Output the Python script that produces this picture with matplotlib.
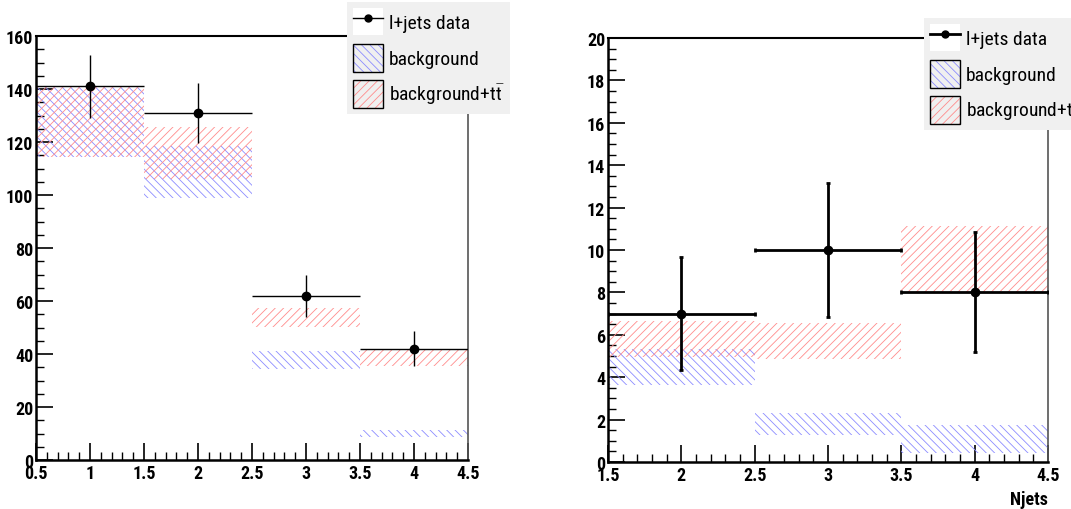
import matplotlib
matplotlib.use("Agg")
import matplotlib.pyplot as plt
from matplotlib.lines import Line2D
from matplotlib.patches import Patch
from matplotlib.legend_handler import HandlerTuple
from matplotlib.ticker import MultipleLocator
from matplotlib import font_manager
import numpy as np

names = {f.name for f in font_manager.fontManager.ttflist}
NARROW = [n for n in ['Liberation Sans Narrow', 'Roboto Condensed', 'Open Sans Condensed']
          if n in names]
plt.rcParams['font.family'] = NARROW + ['Liberation Sans', 'DejaVu Sans']
plt.rcParams['mathtext.fontset'] = 'custom'
plt.rcParams['mathtext.rm'] = (NARROW + ['Liberation Sans'])[0]
plt.rcParams['hatch.linewidth'] = 0.6

# ---- Left panel data ----
left_bins = [1, 2, 3, 4]
left_data = [141, 131, 62, 42]
left_err = [11.9, 11.4, 7.9, 6.5]
left_bkg_lo = [114.3, 98.9, 34.2, 8.8]
left_bkg_hi = [140.7, 118.6, 41.1, 11.3]
left_sig_lo = [114.3, 106.0, 50.3, 35.6]
left_sig_hi = [140.7, 125.8, 57.4, 41.4]

# ---- Right panel data ----
right_bins = [2, 3, 4]
right_data = [7, 10, 8]
right_err = [2.65, 3.16, 2.83]
right_bkg_lo = [3.64, 1.28, 0.44]
right_bkg_hi = [5.32, 2.33, 1.73]
right_sig_lo = [4.93, 4.85, 8.03]
right_sig_hi = [6.66, 6.55, 11.12]

legend_labels = ['l+jets data', 'background', r'background+t$\mathrm{\bar{t}}$']

BLUE = '#8c8cff'
RED = '#ff8c8c'
TICKSIZE = 13 if NARROW else 12
LEGSIZE = 14 if NARROW else 12.5

fig = plt.figure(figsize=(10.71, 5.10), dpi=100)
axL = fig.add_axes([36/1071, 1-461/510, (468-36)/1071, (461-37)/510])
axR = fig.add_axes([608/1071, 1-463/510, (1048-608)/1071, (463-39)/510])


def draw(ax, bins, data, err, blo, bhi, slo, shi, lw, caps):
    bins = np.asarray(bins, float)
    ax.bar(bins, np.subtract(bhi, blo), bottom=blo, width=1.0, fill=False,
           hatch='\\\\\\\\', edgecolor=BLUE, linewidth=0, zorder=2)
    ax.bar(bins, np.subtract(shi, slo), bottom=slo, width=1.0, fill=False,
           hatch='////', edgecolor=RED, linewidth=0, zorder=2)
    ax.errorbar(bins, data, xerr=0.5, yerr=err, fmt='o', color='black',
                markersize=6, elinewidth=lw, capsize=caps, capthick=lw, zorder=4)


def style(ax, xlim, ylim, xmaj, xmin, ymaj, ymin):
    ax.set_xlim(*xlim)
    ax.set_ylim(*ylim)
    ax.xaxis.set_major_locator(MultipleLocator(xmaj))
    ax.xaxis.set_minor_locator(MultipleLocator(xmin))
    ax.yaxis.set_major_locator(MultipleLocator(ymaj))
    ax.yaxis.set_minor_locator(MultipleLocator(ymin))
    ax.tick_params(which='major', direction='in', length=12, width=1.2,
                   top=False, right=False, labelsize=TICKSIZE, pad=3)
    ax.tick_params(which='minor', direction='in', length=6, width=1.0,
                   top=False, right=False)
    ax.spines['left'].set_linewidth(1.8)
    ax.spines['bottom'].set_linewidth(1.8)
    ax.spines['top'].set_linewidth(1.5)
    ax.spines['right'].set_linewidth(1.2)
    ax.spines['right'].set_color('#555555')
    ax.yaxis.set_tick_params(pad=2)


def set_labels(ax, xt, yt):
    ax.set_xticks(xt)
    ax.set_xticklabels([('%g' % v) for v in xt], fontweight='bold')
    ax.set_yticks(yt)
    ax.set_yticklabels([('%g' % v) for v in yt], fontweight='bold')


draw(axL, left_bins, left_data, left_err, left_bkg_lo, left_bkg_hi,
     left_sig_lo, left_sig_hi, 1.0, 0)
style(axL, (0.5, 4.5), (0, 160), 0.5, 0.1, 20, 5)
set_labels(axL, [0.5, 1, 1.5, 2, 2.5, 3, 3.5, 4, 4.5], list(range(0, 161, 20)))

draw(axR, right_bins, right_data, right_err, right_bkg_lo, right_bkg_hi,
     right_sig_lo, right_sig_hi, 2.0, 1.5)
style(axR, (1.5, 4.5), (0, 20), 0.5, 0.1, 2, 0.5)
set_labels(axR, [1.5, 2, 2.5, 3, 3.5, 4, 4.5], list(range(0, 21, 2)))
axR.set_xlabel('Njets', fontweight='bold', fontsize=TICKSIZE, loc='right', labelpad=4)


def make_handles(lw):
    h_data = (Patch(facecolor='white', edgecolor='none'),
              Line2D([], [], color='black', marker='o', markersize=5, linewidth=lw))
    h_bkg = (Patch(fill=False, hatch='\\\\\\\\', edgecolor=BLUE, linewidth=0),
             Patch(fill=False, edgecolor='black', linewidth=1.0))
    h_sig = (Patch(fill=False, hatch='////', edgecolor=RED, linewidth=0),
             Patch(fill=False, edgecolor='black', linewidth=1.0))
    return [h_data, h_bkg, h_sig]


for (x0, y0, lw) in [(347/1071, 1-3/510, 1.0), (924/1071, 1-19/510, 2.0)]:
    leg = fig.legend(make_handles(lw), legend_labels, loc='upper left',
                     bbox_to_anchor=(x0, y0), fontsize=LEGSIZE, frameon=True,
                     fancybox=False, facecolor='#f0f0f0', edgecolor='none',
                     framealpha=1, handlelength=1.55, handleheight=1.8,
                     handletextpad=0.3, labelspacing=0.45, borderpad=0.3,
                     borderaxespad=0,
                     handler_map={tuple: HandlerTuple(ndivide=1, pad=0)})
    leg.set_zorder(10)

fig.savefig('out.png', dpi=100)
